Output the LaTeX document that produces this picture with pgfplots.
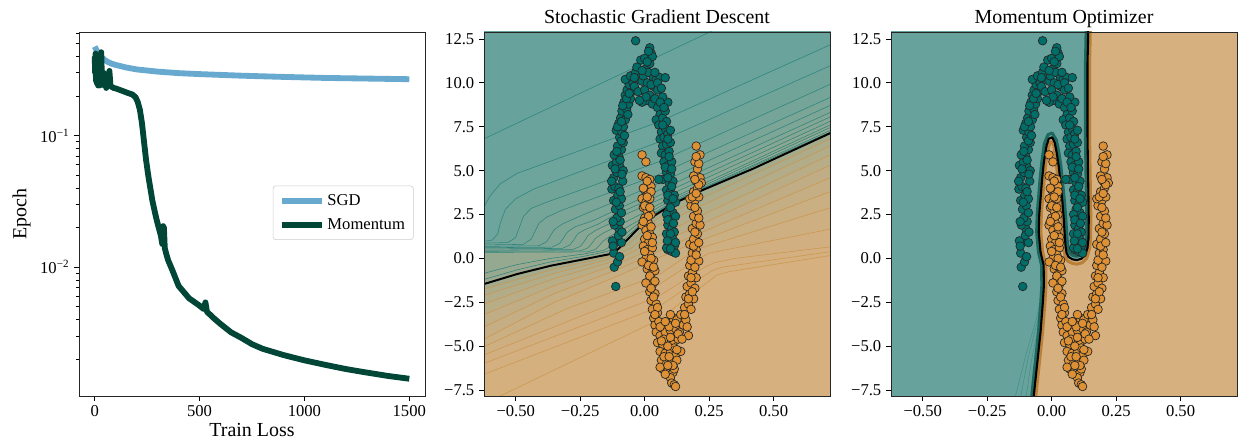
\documentclass[border=0pt]{standalone}
\usepackage{fontspec}
\setmainfont{Liberation Serif}
\usepackage{pgfplots}
\pgfplotsset{compat=1.18}
\usepackage{pgfplotstable}

\definecolor{cT}{RGB}{103,163,156}
\definecolor{cN}{RGB}{214,176,127}
\definecolor{lT}{RGB}{45,132,125}
\definecolor{lN}{RGB}{204,150,78}
\definecolor{pT}{RGB}{0,110,104}
\definecolor{pN}{RGB}{222,145,52}
\definecolor{sgd}{RGB}{103,169,207}
\definecolor{mom}{RGB}{1,70,54}
\definecolor{gT}{RGB}{30,105,95}
\definecolor{gN}{RGB}{185,128,58}

% ---------- loss curves ----------
\pgfplotstableread[row sep=\\]{x y\\
0 0.474\\ 10 0.44\\ 20 0.415\\ 30 0.398\\ 45 0.378\\ 60 0.364\\ 80 0.352\\ 100 0.344\\ 150 0.329\\ 200 0.318\\ 300 0.306\\ 400 0.298\\ 500 0.293\\ 700 0.285\\ 900 0.279\\ 1100 0.274\\ 1300 0.271\\ 1500 0.268\\}\tSGD
\pgfplotstableread[row sep=\\]{x y\\
0 0.40\\ 2 0.30\\ 4 0.42\\ 6 0.26\\ 8 0.37\\ 10 0.25\\ 13 0.35\\ 16 0.24\\ 20 0.33\\ 24 0.24\\ 28 0.38\\ 31 0.43\\ 34 0.28\\ 38 0.25\\ 42 0.30\\ 46 0.24\\ 50 0.27\\ 55 0.23\\ 60 0.26\\ 65 0.24\\ 70 0.31\\ 75 0.24\\ 80 0.235\\ 90 0.23\\ 100 0.228\\ 120 0.222\\ 140 0.216\\ 160 0.21\\ 180 0.205\\ 195 0.195\\ 205 0.18\\ 215 0.158\\ 225 0.125\\ 235 0.09\\ 245 0.065\\ 255 0.05\\ 265 0.04\\ 275 0.032\\ 285 0.027\\ 295 0.023\\ 305 0.02\\ 315 0.0175\\ 322 0.015\\ 326 0.0205\\ 330 0.02\\ 334 0.014\\ 340 0.0128\\ 350 0.0113\\ 370 0.0095\\ 400 0.0072\\ 450 0.0058\\ 500 0.0051\\ 520 0.0048\\ 528 0.0054\\ 535 0.0046\\ 560 0.0042\\ 600 0.0037\\ 650 0.0032\\ 700 0.0029\\ 750 0.0026\\ 800 0.0024\\ 900 0.00215\\ 1000 0.00196\\ 1100 0.00181\\ 1200 0.00168\\ 1300 0.00158\\ 1400 0.00149\\ 1500 0.00142\\}\tMOM

% ---------- SGD decision field: level curves (each closed over the top, off-axis) ----------
\pgfplotstableread[row sep=\\]{x y\\ -0.7 6.28\\ 0.8 16.7\\ 0.8 17\\ -0.7 17\\}\tUa
\pgfplotstableread[row sep=\\]{x y\\ -0.7 1.3\\ -0.66 1.9\\ -0.623 2.93\\ -0.6 3.55\\ -0.56 4.25\\ -0.494 4.85\\ -0.4 5.35\\ 0.054 7.77\\ 0.8 12.7\\ 0.8 17\\ -0.7 17\\}\tUb
\pgfplotstableread[row sep=\\]{x y\\ -0.7 0.95\\ -0.623 0.97\\ -0.59 1.05\\ -0.57 1.4\\ -0.56 2.0\\ -0.54 2.8\\ -0.5 3.4\\ -0.43 3.95\\ 0.054 6.63\\ 0.8 11.5\\ 0.8 17\\ -0.7 17\\}\tUc
\pgfplotstableread[row sep=\\]{x y\\ -0.7 0.85\\ -0.53 0.9\\ -0.5 1.2\\ -0.485 1.8\\ -0.47 2.4\\ -0.44 2.85\\ -0.38 3.2\\ 0.054 5.5\\ 0.8 10.45\\ 0.8 17\\ -0.7 17\\}\tUd
\pgfplotstableread[row sep=\\]{x y\\ -0.7 0.75\\ -0.47 0.8\\ -0.44 1.1\\ -0.425 1.55\\ -0.41 2.0\\ -0.38 2.35\\ -0.32 2.75\\ 0.05 4.75\\ 0.8 9.7\\ 0.8 17\\ -0.7 17\\}\tUe
\pgfplotstableread[row sep=\\]{x y\\ -0.7 0.67\\ -0.41 0.72\\ -0.38 0.95\\ -0.365 1.3\\ -0.35 1.65\\ -0.32 1.95\\ -0.26 2.35\\ 0.05 4.25\\ 0.8 9.25\\ 0.8 17\\ -0.7 17\\}\tUf
\pgfplotstableread[row sep=\\]{x y\\ -0.7 0.6\\ -0.36 0.64\\ -0.33 0.85\\ -0.315 1.15\\ -0.3 1.5\\ -0.27 1.8\\ -0.2 2.15\\ 0.05 3.85\\ 0.8 8.85\\ 0.8 17\\ -0.7 17\\}\tUg
\pgfplotstableread[row sep=\\]{x y\\ -0.7 0.53\\ -0.32 0.57\\ -0.29 0.76\\ -0.275 1.05\\ -0.26 1.4\\ -0.23 1.65\\ -0.18 1.95\\ -0.12 2.45\\ 0.05 3.55\\ 0.8 8.6\\ 0.8 17\\ -0.7 17\\}\tUh
\pgfplotstableread[row sep=\\]{x y\\ -0.7 0.46\\ -0.28 0.5\\ -0.25 0.68\\ -0.235 0.95\\ -0.22 1.3\\ -0.19 1.6\\ -0.14 1.95\\ -0.06 2.6\\ 0.05 3.3\\ 0.8 8.35\\ 0.8 17\\ -0.7 17\\}\tUi
\pgfplotstableread[row sep=\\]{x y\\ -0.7 0.4\\ -0.25 0.43\\ -0.22 0.6\\ -0.205 0.85\\ -0.19 1.15\\ -0.16 1.45\\ -0.11 1.8\\ -0.03 2.4\\ 0.05 3.05\\ 0.8 8.15\\ 0.8 17\\ -0.7 17\\}\tUj
\pgfplotstableread[row sep=\\]{x y\\ -0.7 0.34\\ -0.22 0.37\\ -0.19 0.52\\ -0.175 0.75\\ -0.16 1.0\\ -0.13 1.3\\ -0.09 1.6\\ -0.03 2.1\\ 0.05 2.88\\ 0.109 3.33\\ 0.8 8.0\\ 0.8 17\\ -0.7 17\\}\tUk
\pgfplotstableread[row sep=\\]{x y\\ -0.7 -1.1\\ -0.623 -0.85\\ -0.494 -0.35\\ -0.365 0.0\\ -0.236 0.25\\ -0.16 0.45\\ -0.12 0.78\\ -0.09 1.15\\ -0.05 1.7\\ -0.017 2.05\\ 0.032 2.55\\ 0.109 3.24\\ 0.8 7.82\\ 0.8 17\\ -0.7 17\\}\tUl
\pgfplotstableread[row sep=\\]{x y\\ -0.7 -1.5\\ -0.623 -1.2\\ -0.494 -0.65\\ -0.365 -0.2\\ -0.236 0.12\\ -0.15 0.38\\ -0.12 0.55\\ -0.095 0.85\\ -0.06 1.35\\ -0.017 1.92\\ 0.032 2.47\\ 0.109 3.2\\ 0.8 7.72\\ 0.8 17\\ -0.7 17\\}\tUm
\pgfplotstableread[row sep=\\]{x y\\ -0.7 -1.8\\ -0.623 -1.46\\ -0.494 -0.89\\ -0.365 -0.42\\ -0.236 -0.05\\ -0.133 0.25\\ -0.105 0.5\\ -0.081 0.86\\ -0.045 1.4\\ -0.017 1.81\\ 0.032 2.38\\ 0.109 3.1\\ 0.226 3.9\\ 0.419 5.1\\ 0.719 7.13\\ 0.8 7.66\\ 0.8 17\\ -0.7 17\\}\tBz
\pgfplotstableread[row sep=\\]{x y\\ -0.7 -2.05\\ -0.623 -1.75\\ -0.35 -0.6\\ -0.15 0.05\\ -0.06 0.85\\ 0.05 2.25\\ 0.8 7.36\\ 0.8 17\\ -0.7 17\\}\tLa
\pgfplotstableread[row sep=\\]{x y\\ -0.7 -2.45\\ -0.623 -2.1\\ -0.35 -0.85\\ -0.15 -0.1\\ -0.05 0.6\\ 0.05 1.85\\ 0.8 6.95\\ 0.8 17\\ -0.7 17\\}\tLb
\pgfplotstableread[row sep=\\]{x y\\ -0.7 -3.0\\ -0.623 -2.6\\ -0.35 -1.15\\ -0.14 -0.25\\ -0.04 0.4\\ 0.06 1.35\\ 0.8 6.45\\ 0.8 17\\ -0.7 17\\}\tLc
\pgfplotstableread[row sep=\\]{x y\\ -0.7 -3.65\\ -0.623 -3.2\\ -0.35 -1.55\\ -0.12 -0.4\\ 0.0 0.35\\ 0.08 1.0\\ 0.8 5.85\\ 0.8 17\\ -0.7 17\\}\tLd
\pgfplotstableread[row sep=\\]{x y\\ -0.7 -4.4\\ -0.623 -3.9\\ -0.35 -2.0\\ -0.1 -0.6\\ 0.04 0.3\\ 0.12 0.85\\ 0.8 5.1\\ 0.8 17\\ -0.7 17\\}\tLe
\pgfplotstableread[row sep=\\]{x y\\ -0.7 -5.15\\ -0.623 -4.6\\ -0.35 -2.5\\ -0.08 -0.85\\ 0.08 0.2\\ 0.17 0.75\\ 0.8 4.25\\ 0.8 17\\ -0.7 17\\}\tLf
\pgfplotstableread[row sep=\\]{x y\\ -0.7 -5.5\\ -0.623 -5.03\\ -0.3 -2.85\\ 0.054 -0.95\\ 0.16 0.1\\ 0.22 0.6\\ 0.8 3.25\\ 0.8 17\\ -0.7 17\\}\tLg
\pgfplotstableread[row sep=\\]{x y\\ -0.7 -6.0\\ -0.623 -5.5\\ 0.05 -1.55\\ 0.2 -0.1\\ 0.25 0.3\\ 0.8 1.9\\ 0.8 17\\ -0.7 17\\}\tLh
\pgfplotstableread[row sep=\\]{x y\\ -0.7 -6.5\\ -0.623 -5.98\\ 0.05 -2.2\\ 0.236 -0.47\\ 0.27 -0.25\\ 0.35 0.0\\ 0.8 0.8\\ 0.8 17\\ -0.7 17\\}\tLi
\pgfplotstableread[row sep=\\]{x y\\ -0.7 -7.1\\ -0.623 -6.6\\ 0.05 -2.8\\ 0.26 -0.7\\ 0.3 -0.5\\ 0.8 0.55\\ 0.8 17\\ -0.7 17\\}\tLj
\pgfplotstableread[row sep=\\]{x y\\ -0.7 -8.6\\ -0.56 -7.84\\ 0.054 -3.5\\ 0.28 -0.95\\ 0.33 -0.75\\ 0.8 0.35\\ 0.8 17\\ -0.7 17\\}\tLk

% ---------- Momentum decision boundary ----------
\pgfplotstableread[row sep=\\]{x y\\
-0.075 -9\\ -0.069 -7.8\\ -0.056 -6.0\\ -0.043 -4.2\\ -0.034 -2.5\\ -0.03 -1.53\\ -0.031 -0.39\\ -0.043 0.36\\ -0.05 1.5\\ -0.048 2.5\\ -0.043 3.4\\ -0.037 4.5\\ -0.03 5.5\\ -0.02 6.4\\ -0.011 6.82\\ 0.002 6.9\\ 0.012 6.6\\ 0.02 6.0\\ 0.028 5.2\\ 0.034 4.35\\ 0.042 3.2\\ 0.047 2.26\\ 0.051 1.3\\ 0.054 0.7\\ 0.058 0.3\\ 0.066 0.08\\ 0.08 -0.05\\ 0.098 -0.1\\ 0.115 -0.02\\ 0.13 0.17\\ 0.139 0.6\\ 0.143 1.12\\ 0.144 2.2\\ 0.143 3.4\\ 0.141 5.0\\ 0.139 7.2\\ 0.139 9.0\\ 0.139 11.0\\ 0.141 12.3\\ 0.143 14\\ -0.7 14\\ -0.7 -9\\}\tBm
\pgfplotstableread[row sep=\\]{x y\\
-0.083 -9\\ -0.077 -7.8\\ -0.064 -6.0\\ -0.051 -4.2\\ -0.042 -2.5\\ -0.038 -1.53\\ -0.039 -0.39\\ -0.051 0.36\\ -0.058 1.5\\ -0.056 2.5\\ -0.051 3.4\\ -0.045 4.5\\ -0.038 5.5\\ -0.028 6.55\\ -0.014 7.05\\ 0.002 7.15\\ 0.018 6.75\\ 0.028 6.05\\ 0.036 5.25\\ 0.042 4.4\\ 0.05 3.2\\ 0.055 2.26\\ 0.059 1.3\\ 0.062 0.75\\ 0.065 0.45\\ 0.07 0.3\\ 0.082 0.17\\ 0.098 0.12\\ 0.112 0.2\\ 0.123 0.35\\ 0.131 0.65\\ 0.135 1.12\\ 0.136 2.2\\ 0.135 3.4\\ 0.133 5.0\\ 0.131 7.2\\ 0.131 9.0\\ 0.131 11.0\\ 0.133 12.3\\ 0.135 14\\}\tGt
\pgfplotstableread[row sep=\\]{x y\\
-0.067 -9\\ -0.061 -7.8\\ -0.048 -6.0\\ -0.035 -4.2\\ -0.026 -2.5\\ -0.022 -1.53\\ -0.023 -0.39\\ -0.035 0.36\\ -0.042 1.5\\ -0.04 2.5\\ -0.035 3.4\\ -0.029 4.5\\ -0.022 5.5\\ -0.013 6.3\\ -0.006 6.6\\ 0.002 6.65\\ 0.008 6.45\\ 0.013 5.95\\ 0.02 5.15\\ 0.026 4.3\\ 0.034 3.2\\ 0.039 2.26\\ 0.043 1.3\\ 0.047 0.65\\ 0.052 0.15\\ 0.062 -0.15\\ 0.08 -0.28\\ 0.098 -0.33\\ 0.118 -0.25\\ 0.136 0.0\\ 0.147 0.55\\ 0.151 1.12\\ 0.152 2.2\\ 0.151 3.4\\ 0.149 5.0\\ 0.147 7.2\\ 0.147 9.0\\ 0.147 11.0\\ 0.149 12.3\\ 0.151 14\\}\tGn
\pgfplotstableread[row sep=\\]{x y\\ -0.16 -9\\ -0.1 -5.5\\ -0.06 -3.5\\ -0.045 -2.5\\}\tFa
\pgfplotstableread[row sep=\\]{x y\\ -0.135 -9\\ -0.09 -5.6\\ -0.055 -3.6\\ -0.042 -2.8\\}\tFb
\pgfplotstableread[row sep=\\]{x y\\ -0.11 -9\\ -0.078 -5.8\\ -0.05 -3.8\\ -0.04 -3.0\\}\tFc

% ---------- data points ----------
\pgfplotstableread[row sep=\\]{x y\\
-0.112 -1.6\\ -0.118 -0.5\\ -0.105 -0.2\\ -0.12 0.3\\ -0.097 0.1\\ -0.11 0.95\\ -0.09 0.9\\ -0.125 1.0\\ -0.1 1.7\\ -0.117 1.9\\ -0.095 2.1\\ -0.108 2.3\\ -0.113 2.8\\ -0.098 3.0\\ -0.12 3.3\\ -0.104 3.6\\ -0.09 3.4\\ -0.127 3.95\\ -0.115 4.1\\ -0.1 4.0\\ -0.085 4.4\\ -0.12 4.6\\ -0.108 4.9\\ -0.125 5.3\\ -0.095 5.2\\ -0.11 5.5\\ -0.083 5.0\\ -0.1 5.8\\ -0.118 5.9\\ -0.09 6.2\\ -0.105 6.4\\ -0.083 6.6\\ -0.097 6.9\\ -0.11 7.3\\ -0.088 7.2\\ -0.1 7.7\\ -0.082 7.5\\ -0.093 8.0\\ -0.075 7.9\\ -0.088 8.4\\ -0.07 8.5\\ -0.08 8.9\\ -0.062 8.8\\ -0.075 9.3\\ -0.055 9.1\\ -0.068 9.6\\ -0.05 9.5\\ -0.06 9.9\\ -0.075 10.2\\ -0.045 10.0\\ -0.055 10.4\\ -0.035 12.4\\ -0.035 10.6\\ -0.02 10.3\\ -0.04 9.8\\ -0.025 9.5\\ -0.01 10.1\\ -0.015 11.3\\ 0.0 11.4\\ 0.005 10.8\\ -0.005 10.4\\ 0.01 10.0\\ 0.02 11.1\\ 0.025 11.7\\ 0.02 12.0\\ 0.03 11.5\\ 0.015 10.6\\ 0.035 10.3\\ 0.0 9.6\\ 0.02 9.3\\ 0.035 9.8\\ 0.045 10.2\\ 0.06 10.3\\ 0.01 9.0\\ 0.03 8.8\\ -0.01 8.9\\ 0.005 9.2\\ -0.02 9.0\\ 0.04 9.1\\ 0.05 9.6\\ 0.08 10.3\\ 0.09 8.9\\ 0.05 8.6\\ 0.06 8.2\\ 0.045 7.9\\ 0.07 8.0\\ 0.055 7.6\\ 0.08 8.4\\ 0.065 7.2\\ 0.08 7.4\\ 0.06 6.8\\ 0.075 6.9\\ 0.09 7.1\\ 0.07 6.4\\ 0.085 6.5\\ 0.1 6.6\\ 0.065 6.0\\ 0.08 5.9\\ 0.095 6.1\\ 0.075 5.5\\ 0.09 5.3\\ 0.105 5.5\\ 0.085 4.9\\ 0.1 4.8\\ 0.07 4.5\\ 0.055 4.5\\ 0.095 4.3\\ 0.11 4.4\\ 0.085 3.9\\ 0.1 3.8\\ 0.115 3.6\\ 0.09 3.3\\ 0.105 3.1\\ 0.12 3.2\\ 0.095 2.8\\ 0.11 2.6\\ 0.085 2.5\\ 0.1 2.2\\ 0.12 2.4\\ 0.09 1.9\\ 0.105 1.7\\ 0.115 1.5\\ 0.095 1.2\\ 0.11 1.1\\ 0.085 1.4\\ 0.1 0.8\\ 0.115 0.7\\ 0.09 0.5\\ 0.105 0.4\\ 0.12 0.3\\ 0.085 0.6\\
-0.122 0.7\\ -0.102 1.3\\ -0.088 1.5\\ -0.122 2.1\\ -0.09 2.6\\ -0.11 3.2\\ -0.095 3.8\\ -0.128 4.4\\ -0.088 4.8\\ -0.115 5.1\\ -0.095 5.6\\ -0.108 6.1\\ -0.09 6.7\\ -0.078 7.0\\ -0.105 7.5\\ -0.09 7.8\\ -0.065 8.2\\ -0.085 8.7\\ -0.07 9.1\\ -0.06 9.4\\ -0.04 10.3\\ -0.03 10.9\\ -0.01 10.7\\ 0.01 11.2\\ 0.015 11.8\\ 0.04 10.6\\ 0.025 9.9\\ 0.05 10.0\\ 0.065 9.7\\ 0.07 9.2\\ 0.06 8.9\\ 0.075 8.6\\ 0.085 7.8\\ 0.07 7.6\\ 0.1 7.3\\ 0.09 6.8\\ 0.095 5.8\\ 0.08 5.2\\ 0.105 5.1\\ 0.09 4.6\\ 0.105 4.1\\ 0.09 3.6\\ 0.11 3.4\\ 0.1 2.9\\ 0.09 2.2\\ 0.112 2.0\\ 0.1 1.4\\ 0.088 1.0\\ 0.12 0.9\\ 0.1 0.55\\}\tPT
\pgfplotstableread[row sep=\\]{x y\\
-0.01 5.9\\ 0.005 5.5\\ -0.01 4.7\\ 0.005 4.6\\ 0.02 4.5\\ 0.01 4.2\\ 0.025 4.1\\ 0.0 3.9\\ 0.015 3.7\\ -0.01 3.4\\ 0.005 3.2\\ 0.02 3.4\\ -0.005 2.9\\ 0.01 2.7\\ 0.025 2.5\\ 0.0 2.3\\ 0.015 2.0\\ -0.01 1.9\\ 0.005 1.6\\ 0.02 1.4\\ 0.03 1.2\\ 0.0 1.1\\ 0.015 0.9\\ -0.005 0.7\\ 0.01 0.5\\ 0.03 0.6\\ 0.02 0.2\\ 0.005 0.0\\ -0.01 -0.2\\ 0.02 -0.3\\ 0.035 -0.1\\ 0.01 -0.6\\ 0.025 -0.9\\ 0.04 -0.7\\ 0.015 -1.3\\ 0.03 -1.5\\ 0.005 -1.4\\ 0.02 -1.9\\ 0.04 -2.0\\ 0.025 -2.4\\ 0.045 -2.6\\ 0.03 -2.9\\ 0.05 -3.1\\ 0.035 -3.4\\ 0.04 -3.8\\ 0.055 -3.6\\ 0.07 -3.9\\ 0.09 -3.7\\ 0.11 -3.4\\ 0.125 -3.5\\ 0.1 -3.2\\ 0.045 -4.2\\ 0.06 -4.4\\ 0.08 -4.2\\ 0.1 -4.1\\ 0.12 -4.0\\ 0.135 -4.2\\ 0.05 -4.8\\ 0.07 -4.9\\ 0.09 -4.7\\ 0.11 -4.8\\ 0.13 -4.6\\ 0.06 -5.3\\ 0.08 -5.4\\ 0.1 -5.3\\ 0.12 -5.5\\ 0.14 -5.3\\ 0.065 -5.8\\ 0.085 -6.0\\ 0.105 -5.9\\ 0.125 -5.8\\ 0.07 -6.3\\ 0.09 -6.4\\ 0.11 -6.5\\ 0.06 -6.2\\ 0.1 -6.8\\ 0.08 -6.6\\ 0.115 -6.3\\ 0.105 -7.1\\ 0.115 -7.2\\ 0.12 -7.3\\ 0.095 -3.9\\ 0.075 -4.6\\ 0.115 -5.1\\ 0.15 -3.8\\ 0.14 -3.2\\ 0.16 -3.5\\ 0.17 -4.4\\ 0.155 -2.8\\ 0.17 -2.6\\ 0.18 -2.9\\ 0.16 -2.2\\ 0.175 -2.0\\ 0.19 -2.3\\ 0.165 -1.6\\ 0.18 -1.4\\ 0.195 -1.7\\ 0.17 -1.0\\ 0.185 -0.8\\ 0.2 -1.1\\ 0.175 -0.4\\ 0.19 -0.2\\ 0.21 -0.15\\ 0.185 0.3\\ 0.2 0.5\\ 0.175 0.8\\ 0.19 1.1\\ 0.205 1.4\\ 0.185 1.7\\ 0.2 2.0\\ 0.215 1.9\\ 0.19 2.4\\ 0.205 2.7\\ 0.18 3.0\\ 0.195 3.3\\ 0.21 3.5\\ 0.175 3.4\\ 0.19 3.8\\ 0.205 4.0\\ 0.2 4.4\\ 0.215 4.6\\ 0.19 4.7\\ 0.205 5.1\\ 0.195 5.5\\ 0.2 6.4\\ 0.215 5.9\\ 0.22 4.3\\
0.01 4.4\\ -0.005 4.0\\ 0.025 3.8\\ 0.01 3.5\\ 0.0 3.0\\ 0.02 2.9\\ 0.015 2.4\\ -0.005 2.1\\ 0.025 1.8\\ 0.01 1.3\\ 0.03 0.9\\ 0.0 0.4\\ 0.025 0.0\\ 0.015 -0.4\\ 0.035 -0.5\\ 0.02 -1.0\\ 0.04 -1.3\\ 0.025 -1.7\\ 0.035 -2.2\\ 0.05 -2.8\\ 0.04 -3.2\\ 0.06 -3.9\\ 0.08 -3.6\\ 0.12 -3.7\\ 0.065 -4.7\\ 0.09 -5.0\\ 0.1 -4.5\\ 0.125 -5.2\\ 0.075 -5.6\\ 0.095 -5.6\\ 0.11 -6.1\\ 0.09 -6.1\\ 0.13 -4.3\\ 0.145 -4.6\\ 0.155 -3.2\\ 0.165 -3.9\\ 0.17 -2.3\\ 0.185 -1.9\\ 0.18 -1.1\\ 0.195 -0.5\\ 0.18 -0.1\\ 0.2 0.2\\ 0.19 0.7\\ 0.21 0.9\\ 0.195 1.5\\ 0.21 2.3\\ 0.195 2.9\\ 0.185 3.5\\ 0.2 3.7\\ 0.21 4.2\\ 0.195 4.5\\ 0.21 5.4\\ 0.2 5.8\\}\tPN

\pgfplotsset{
  base/.style={scale only axis, width=249.12bp, height=262.08bp, anchor=south west,
    tick align=outside, tick pos=left, major tick length=3.5bp, minor tick length=2bp,
    every tick/.style={black, line width=0.6bp},
    axis line style={black!85, line width=0.6bp},
    tick label style={font=\fontsize{12}{14}\selectfont},
    label style={font=\fontsize{14.4}{17}\selectfont},
    title style={font=\fontsize{14.4}{17}\selectfont, at={(0.5,1)}, anchor=base}},
  field/.style={base, axis on top, xmin=-0.623, xmax=0.719, ymin=-7.84, ymax=12.9,
    xtick={-0.5,-0.25,0,0.25,0.5}, xticklabels={−0.50,−0.25,0.00,0.25,0.50},
    ytick={-7.5,-5,-2.5,0,2.5,5,7.5,10,12.5},
    yticklabels={−7.5,−5.0,−2.5,0.0,2.5,5.0,7.5,10.0,12.5}},
  ptsT/.style={only marks, mark=*, mark size=3.1bp, mark options={fill=pT, draw=black!85, line width=0.5bp}},
  ptsN/.style={only marks, mark=*, mark size=3.1bp, mark options={fill=pN, draw=black!85, line width=0.5bp}},
  uline/.style={lT, line width=0.4bp},
  lline/.style={lN, line width=0.4bp},
  band/.style={fill=#1, draw=none}
}

\begin{document}
\begin{tikzpicture}
\useasboundingbox (0,0) rectangle (891.36bp,316.8bp);

% ===== left: loss curves =====
\begin{axis}[base, at={(56.88bp,31.68bp)}, ymode=log,
  xmin=-75, xmax=1575, ymin=0.00105, ymax=0.612,
  xtick={0,500,1000,1500}, xticklabels={0,500,1000,1500},
  ytick={0.1,0.01}, yticklabels={10\textsuperscript{−1},10\textsuperscript{−2}},
  minor ytick={0.002,0.003,0.004,0.005,0.006,0.007,0.008,0.009,0.02,0.03,0.04,0.05,0.06,0.07,0.08,0.09,0.2,0.3,0.4,0.5,0.6},
  xlabel={Train Loss}, ylabel={Epoch},
  xlabel style={yshift=2bp},
  legend style={at={(0.56,0.578)}, anchor=north west, draw=black!20, rounded corners=2bp,
    font=\fontsize{12}{14}\selectfont, inner xsep=4bp, inner ysep=4bp, row sep=4bp},
  legend cell align=left,
  legend image code/.code={\draw[#1] (0bp,0bp) -- (29bp,0bp);}]
\addplot[sgd, line width=4.2bp, line join=round] table {\tSGD};
\addlegendentry{SGD}
\addplot[mom, line width=4.2bp, line join=round] table {\tMOM};
\addlegendentry{Momentum}
\end{axis}

% ===== middle: SGD field =====
\begin{axis}[field, at={(348.48bp,31.68bp)}, title={Stochastic Gradient Descent},
  axis background/.style={fill=cN}]
\addplot[band=cN!99!cT] table {\tLk};
\addplot[band=cN!98!cT] table {\tLj};
\addplot[band=cN!96!cT] table {\tLi};
\addplot[band=cN!93!cT] table {\tLh};
\addplot[band=cN!89!cT] table {\tLg};
\addplot[band=cN!85!cT] table {\tLf};
\addplot[band=cN!80!cT] table {\tLe};
\addplot[band=cN!74!cT] table {\tLd};
\addplot[band=cN!68!cT] table {\tLc};
\addplot[band=cN!62!cT] table {\tLb};
\addplot[band=cN!55!cT] table {\tLa};
\addplot[band=cN!48!cT] table {\tBz};
\addplot[band=cN!45!cT] table {\tUm};
\addplot[band=cN!41!cT] table {\tUl};
\addplot[band=cN!37!cT] table {\tUk};
\addplot[band=cN!33!cT] table {\tUj};
\addplot[band=cN!29!cT] table {\tUi};
\addplot[band=cN!25!cT] table {\tUh};
\addplot[band=cN!21!cT] table {\tUg};
\addplot[band=cN!17!cT] table {\tUf};
\addplot[band=cN!13!cT] table {\tUe};
\addplot[band=cN!9!cT] table {\tUd};
\addplot[band=cN!5!cT] table {\tUc};
\addplot[band=cN!2!cT] table {\tUb};
\addplot[band=cT] table {\tUa};
\addplot[uline] table {\tUa};
\addplot[uline] table {\tUb};
\addplot[uline] table {\tUc};
\addplot[uline] table {\tUd};
\addplot[uline] table {\tUe};
\addplot[uline] table {\tUf};
\addplot[uline] table {\tUg};
\addplot[uline] table {\tUh};
\addplot[uline] table {\tUi};
\addplot[uline] table {\tUj};
\addplot[uline] table {\tUk};
\addplot[uline] table {\tUl};
\addplot[uline] table {\tUm};
\addplot[lline] table {\tLa};
\addplot[lline] table {\tLb};
\addplot[lline] table {\tLc};
\addplot[lline] table {\tLd};
\addplot[lline] table {\tLe};
\addplot[lline] table {\tLf};
\addplot[lline] table {\tLg};
\addplot[lline] table {\tLh};
\addplot[lline] table {\tLi};
\addplot[lline] table {\tLj};
\addplot[lline] table {\tLk};
\addplot[black, line width=1.4bp] table {\tBz};
\addplot[ptsT] table {\tPT};
\addplot[ptsN] table {\tPN};
\end{axis}

% ===== right: Momentum field =====
\begin{axis}[field, at={(641.52bp,31.68bp)}, title={Momentum Optimizer},
  axis background/.style={fill=cN}]
\addplot[band=cT] table {\tBm};
\addplot[lT, opacity=0.6, line width=0.4bp] table {\tFa};
\addplot[lT, opacity=0.6, line width=0.4bp] table {\tFb};
\addplot[lT, opacity=0.6, line width=0.4bp] table {\tFc};
\addplot[gT, line width=2.2bp, line join=round] table {\tGt};
\addplot[gN, line width=2.2bp, line join=round] table {\tGn};
\addplot[black, line width=1.5bp, line join=round] table {\tBm};
\addplot[ptsT] table {\tPT};
\addplot[ptsN] table {\tPN};
\end{axis}
\end{tikzpicture}
\end{document}
